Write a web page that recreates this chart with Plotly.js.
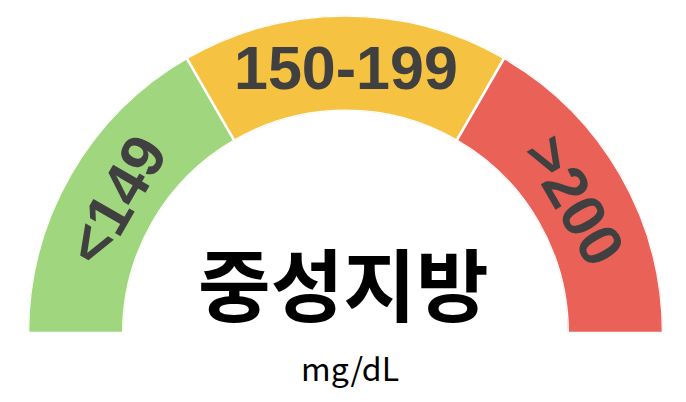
<!DOCTYPE html>
<html>
<head>
<meta charset="utf-8">
<script src="https://cdn.plot.ly/plotly-3.0.1.min.js"></script>
<style>
  html, body { margin: 0; padding: 0; background: #fff; }
  #gauge { width: 686px; height: 402px; }
</style>
</head>
<body>
<div id="gauge"></div>
<script>
// gauge bands: label, centre angle (deg), span (deg), colour
var bandLabels = ['<149', '150-199', '>200'];
var bandTheta = [150, 90, 30];
var bandWidth = [60, 60, 60];
var bandValue = [1, 1, 1];
var bandColors = ['#a0d77e', '#f5c242', '#ea6158'];

var titleText = '중성지방';
var unitText = 'mg/dL';

var W = 686, H = 402;
var cx = 345.5, cy = 333, R = 317.5, hole = 0.7;

var bands = {
  type: 'barpolar',
  r: bandValue,
  theta: bandTheta,
  width: bandWidth,
  marker: {
    color: bandColors,
    line: {color: '#ffffff', width: 2.5}
  },
  hoverinfo: 'skip'
};

// band labels placed on the middle of the ring, turned with the band
var rMid = R * (1 + hole) / 2 - 5;
var notes = bandLabels.map(function(t, i) {
  var a = bandTheta[i] * Math.PI / 180;
  return {
    text: t,
    xref: 'paper', yref: 'paper',
    x: (cx + rMid * Math.cos(a)) / W,
    y: 1 - (cy - rMid * Math.sin(a)) / H,
    xanchor: 'center', yanchor: 'middle',
    showarrow: false,
    textangle: 90 - bandTheta[i],
    font: {family: 'Liberation Sans, Arial, sans-serif', size: 61, color: '#404040', weight: 'bold'}
  };
});

notes.push({
  text: titleText,
  xref: 'paper', yref: 'paper',
  x: 343 / W, y: 1 - 281 / H,
  xanchor: 'center', yanchor: 'middle',
  showarrow: false,
  font: {family: 'Noto Sans CJK KR, sans-serif', size: 79, color: '#000000', weight: 'bold'}
});
notes.push({
  text: unitText,
  xref: 'paper', yref: 'paper',
  x: 350 / W, y: 1 - 367 / H,
  xanchor: 'center', yanchor: 'middle',
  showarrow: false,
  font: {family: 'Noto Sans CJK KR, Noto Sans, sans-serif', size: 32, color: '#000000'}
});

var layout = {
  width: W,
  height: H,
  margin: {l: 0, r: 0, t: 0, b: 0},
  paper_bgcolor: '#ffffff',
  showlegend: false,
  polar: {
    domain: {x: [(cx - R) / W, (cx + R) / W], y: [(H - cy) / H, (H - cy + R) / H]},
    sector: [0, 180],
    hole: hole,
    bgcolor: 'rgba(0,0,0,0)',
    radialaxis: {range: [0, 1], visible: false, showgrid: false},
    angularaxis: {
      visible: false, showgrid: false, showline: false,
      showticklabels: false, ticks: '', direction: 'counterclockwise', rotation: 0
    }
  },
  annotations: notes
};

Plotly.newPlot('gauge', [bands], layout, {displayModeBar: false, staticPlot: true});
</script>
</body>
</html>
